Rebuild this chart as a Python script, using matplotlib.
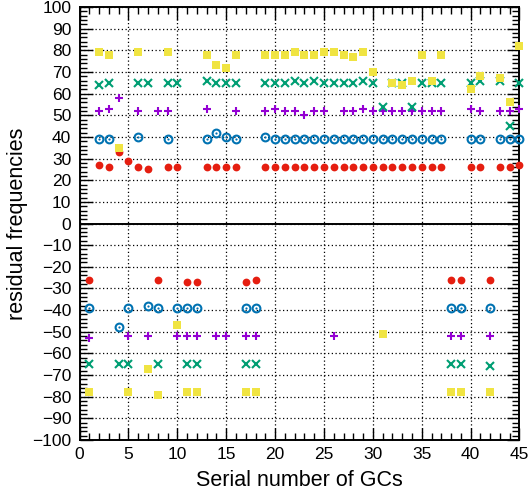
import matplotlib
matplotlib.use("Agg")
import matplotlib.pyplot as plt
import numpy as np
from matplotlib.ticker import MultipleLocator

plt.rcParams['font.family'] = ['Liberation Sans', 'DejaVu Sans']

# serial numbers of the GCs
gc = np.arange(1, 46)

# residual frequencies for each GC, one list per series
res_red = [-26, 27, 26, 33, 29, 26, 25, -26, 26, 26, -27, -27, 26, 26, 26,
           26, -27, -26, 26, 26, 26, 26, 26, 26, 26, 26, 26, 26, 26, 26,
           26, 26, 26, 26, 26, 26, 26, -26, -26, 26, 26, -26, 26, 26, 27]
res_blue = [-39, 39, 39, -48, -39, 40, -38, -39, 39, -39, -39, -39, 39, 42, 40,
            39, -39, -39, 40, 39, 39, 39, 39, 39, 39, 39, 39, 39, 39, 39,
            39, 39, 39, 39, 39, 39, 39, -39, -39, 39, 39, -39, 39, 39, 39]
res_purple = [-53, 52, 53, 58, -52, 52, -52, 52, 52, -52, -52, -52, 53, -52, -52,
              52, -52, -52, 52, 53, 52, 52, 50, 52, 52, -52, 52, 52, 53, 52,
              52, 52, 52, 52, 52, 52, 52, -52, -52, 53, 52, -52, 52, 52, 53]
res_green = [-65, 64, 65, -65, -65, 65, 65, -65, 65, 65, -65, -65, 66, 65, 65,
             65, -65, -65, 65, 65, 65, 66, 65, 66, 65, 65, 65, 65, 66, 65,
             54, 65, 65, 54, 65, 65, 65, -65, -65, 65, 66, -66, 66, 45, 65]
res_yellow = [-78, 79, 78, 35, -78, 79, -67, -79, 79, -47, -78, -78, 78, 73, 72,
              78, -78, -78, 78, 78, 78, 79, 78, 78, 79, 79, 78, 77, 79, 70,
              -51, 65, 64, 66, 78, 66, 78, -78, -78, 62, 68, -78, 67, 56, 82]

fig = plt.figure(figsize=(5.28, 4.93), dpi=100)
ax = fig.add_axes([0.1506, 0.1075, 0.8333, 0.8783])

ax.plot(gc, res_red, 'o', color='#e51e10', ms=5.6, mew=0, clip_on=False, zorder=3)
ax.plot(gc, res_blue, 'o', mfc='none', mec='#0072b2', ms=5.6, mew=1.5,
        clip_on=False, zorder=3)
ax.plot(gc, res_blue, 'o', color='#0072b2', ms=1.6, mew=0, clip_on=False, zorder=3)
ax.plot(gc, res_purple, '+', color='#9400d3', ms=6, mew=1.5, clip_on=False, zorder=4)
ax.plot(gc, res_green, 'x', color='#009e73', ms=5.2, mew=1.5, clip_on=False, zorder=5)
ax.plot(gc, res_yellow, 's', color='#f0e442', ms=5.4, mew=0, clip_on=False, zorder=6)

ax.axhline(0, color='black', lw=1.4, zorder=2)

ax.set_xlim(0, 45)
ax.set_ylim(-100, 100)
ax.xaxis.set_major_locator(MultipleLocator(5))
ax.xaxis.set_minor_locator(MultipleLocator(1))
ax.yaxis.set_major_locator(MultipleLocator(10))
ax.yaxis.set_minor_locator(MultipleLocator(2))
ax.tick_params(which='both', direction='in', top=True, right=True,
               color='black', width=1.0, labelsize=12.5)
ax.tick_params(which='major', length=9)
ax.tick_params(which='minor', length=5)
ax.tick_params(axis='x', pad=5)
ax.tick_params(axis='y', pad=6)
ax.grid(which='major', color='black', linestyle=(0, (1, 2)), lw=0.9)
for s in ax.spines.values():
    s.set_linewidth(1.4)

ax.set_xlabel('Serial number of GCs', fontsize=15.5, labelpad=6)
ax.set_ylabel('residual frequencies', fontsize=15.5, labelpad=3)

fig.savefig('out.png', dpi=100)
